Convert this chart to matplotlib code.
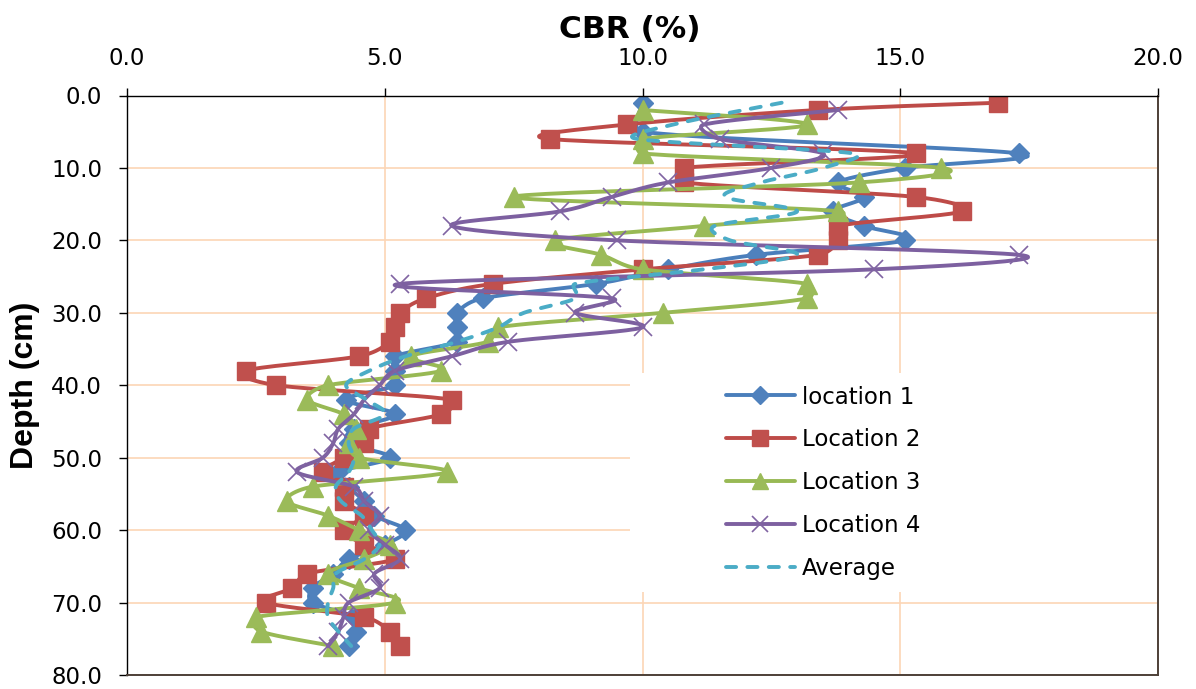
import numpy as np
import matplotlib
matplotlib.use("Agg")
import matplotlib.pyplot as plt
from matplotlib.lines import Line2D
from matplotlib.patches import Rectangle

# ---- data: CBR (%) against depth (cm) ----
loc1_depth = [1, 5, 8, 10, 12, 14, 16, 18, 20, 22, 24, 26, 28, 30, 32, 34, 36, 38, 40,
              42, 44, 46, 48, 50, 52, 54, 56, 58, 60, 62, 64, 66, 68, 70, 72, 74, 76]
loc1_cbr = [10.0, 10.0, 17.3, 15.1, 13.8, 14.3, 13.7, 14.3, 15.1, 12.2, 10.5, 9.1, 6.9,
            6.4, 6.4, 6.4, 5.2, 5.2, 5.2, 4.25, 5.2, 4.4, 4.3, 5.1, 4.1, 4.3, 4.6, 4.8,
            5.4, 5.0, 4.3, 4.0, 3.6, 3.6, 4.4, 4.45, 4.3]

loc2_depth = [1, 2, 4, 6, 8, 10, 12, 14, 16, 18, 20, 22, 24, 26, 28, 30, 32, 34, 36, 38,
              40, 42, 44, 46, 48, 50, 52, 54, 56, 58, 60, 62, 64, 66, 68, 70, 72, 74, 76]
loc2_cbr = [16.9, 13.4, 9.7, 8.2, 15.3, 10.8, 10.8, 15.3, 16.2, 13.8, 13.8, 13.4, 10.0,
            7.1, 5.8, 5.3, 5.2, 5.1, 4.5, 2.3, 2.9, 6.3, 6.1, 4.7, 4.6, 4.2, 3.8, 4.2,
            4.2, 4.6, 4.2, 4.6, 5.2, 3.5, 3.2, 2.7, 4.6, 5.1, 5.3]

loc3_depth = [2, 4, 6, 8, 10, 12, 14, 16, 18, 20, 22, 24, 26, 28, 30, 32, 34, 36, 38,
              40, 42, 44, 46, 48, 50, 52, 54, 56, 58, 60, 62, 64, 66, 68, 70, 72, 74, 76]
loc3_cbr = [10.0, 13.2, 10.0, 10.0, 15.8, 14.2, 7.5, 13.8, 11.2, 8.3, 9.2, 10.0, 13.2,
            13.2, 10.4, 7.2, 7.0, 5.5, 6.1, 3.9, 3.5, 4.2, 4.45, 4.3, 4.5, 6.2, 3.6,
            3.1, 3.9, 4.5, 5.1, 4.6, 3.9, 4.5, 5.2, 2.5, 2.6, 4.0]

loc4_depth = [2, 4, 6, 8, 10, 12, 14, 16, 18, 20, 22, 24, 26, 28, 30, 32, 34, 36, 38,
              40, 42, 44, 46, 48, 50, 52, 54, 56, 58, 60, 62, 64, 66, 68, 70, 72, 74, 76]
loc4_cbr = [13.8, 11.2, 11.5, 13.5, 12.5, 10.5, 9.4, 8.4, 6.3, 9.5, 17.3, 14.5, 5.3,
            9.4, 8.7, 10.0, 7.4, 6.3, 5.2, 4.9, 4.6, 4.4, 4.1, 4.0, 3.8, 3.3, 4.4, 4.6,
            4.9, 4.7, 5.0, 5.3, 4.8, 4.9, 4.3, 4.2, 4.1, 3.9]

avg_depth = [1, 4, 6, 8, 10, 12, 14, 16, 18, 20, 22, 24, 26, 28, 30, 32, 34, 36, 38,
             40, 42, 44, 46, 48, 50, 52, 54, 56, 58, 60, 62, 64, 66, 68, 70, 72, 74, 76]
avg_cbr = [12.7, 10.6, 9.9, 14.1, 13.5, 12.3, 11.6, 13.0, 11.4, 11.7, 13.0, 11.2, 8.7,
           8.7, 7.7, 7.2, 6.4, 5.4, 4.7, 4.25, 4.65, 5.0, 4.4, 4.3, 4.4, 4.3, 4.05, 4.15,
           4.55, 4.75, 4.9, 4.6, 4.05, 4.0, 3.9, 3.9, 4.1, 4.35]

series_names = ["location 1", "Location 2", "Location 3", "Location 4", "Average"]

x_ticks = [0, 5, 10, 15, 20]
x_tick_labels = ["0.0", "5.0", "10.0", "15.0", "20.0"]
y_ticks = [0, 10, 20, 30, 40, 50, 60, 70, 80]
y_tick_labels = ["0.0", "10.0", "20.0", "30.0", "40.0", "50.0", "60.0", "70.0", "80.0"]


def smooth(ax, xs, ys, n=24):
    """Smoothed curve through the points: cubic Bezier segments whose tangents
    follow the neighbouring points, limited to half the segment length
    (computed in screen space, then mapped back to data coordinates)."""
    P = ax.transData.transform(np.column_stack([xs, ys]).astype(float))
    out = []
    for i in range(len(P) - 1):
        p0 = P[i - 1] if i > 0 else P[i]
        p1, p2 = P[i], P[i + 1]
        p3 = P[i + 2] if i + 2 < len(P) else P[i + 1]
        seg = np.hypot(*(p2 - p1))
        t1 = (p2 - p0) / 6.0
        t2 = (p3 - p1) / 6.0
        for tv in (t1, t2):
            L = np.hypot(*tv)
            if L > 0.5 * seg and L > 0:
                tv *= 0.5 * seg / L
        c1 = p1 + t1
        c2 = p2 - t2
        t = np.linspace(0, 1, n, endpoint=(i == len(P) - 2))[:, None]
        curve = ((1 - t) ** 3) * p1 + 3 * ((1 - t) ** 2) * t * c1 \
            + 3 * (1 - t) * t ** 2 * c2 + t ** 3 * p2
        out.append(curve)
    out = ax.transData.inverted().transform(np.vstack(out))
    return out[:, 0], out[:, 1]


W, H = 1196, 689
fig = plt.figure(figsize=(W / 100, H / 100), dpi=100)
ax = fig.add_axes([127 / W, 1 - 675 / H, (1158 - 127) / W, (675 - 95.5) / H])

FONT = "DejaVu Sans"
TICK_FS = 16.5

ax.set_xlim(0, 20)
ax.set_ylim(80, 0)
ax.set_xticks(x_ticks)
ax.set_xticklabels(x_tick_labels, fontsize=TICK_FS, family=FONT)
ax.set_yticks(y_ticks)
ax.set_yticklabels(y_tick_labels, fontsize=TICK_FS, family=FONT)
ax.tick_params(axis="x", top=True, labeltop=True, bottom=False, labelbottom=False,
               direction="out", length=5.5, width=1.0, pad=12.7, colors="black")
ax.tick_params(axis="y", left=True, right=False, direction="out", length=5.5,
               width=1.0, pad=12.5, colors="black")

grid_c = "#FCD5B5"
ax.set_axisbelow(True)
ax.grid(True, color=grid_c, linewidth=1.2)

for side in ("top", "left"):
    ax.spines[side].set_color("black")
    ax.spines[side].set_linewidth(1.0)
for side in ("bottom", "right"):
    ax.spines[side].set_color("#4d4038")
    ax.spines[side].set_linewidth(1.4)

# white panel behind the legend
ax.add_patch(Rectangle((0.488, 0.143), 0.512, 0.378, transform=ax.transAxes,
                       facecolor="white", edgecolor="none", zorder=0.8))

styles = [
    dict(color="#4A7EBB", marker="D", ms=10.5, mfc="#4F81BD", mec="#4F81BD", mew=1.0),
    dict(color="#BE4B48", marker="s", ms=13.5, mfc="#C0504D", mec="#C0504D", mew=1.0),
    dict(color="#98B954", marker="^", ms=14.0, mfc="#9BBB59", mec="#9BBB59", mew=1.0),
    dict(color="#7D60A0", marker="x", ms=13.0, mfc="#8064A2", mec="#8064A2", mew=1.2),
]
data = [(loc1_cbr, loc1_depth), (loc2_cbr, loc2_depth),
        (loc3_cbr, loc3_depth), (loc4_cbr, loc4_depth)]
LW = 2.8

handles = []
for (xv, yv), st, name in zip(data, styles, series_names[:4]):
    sx, sy = smooth(ax, xv, yv)
    ax.plot(sx, sy, color=st["color"], lw=LW, solid_capstyle="round",
            solid_joinstyle="round", zorder=2)
    ax.plot(xv, yv, ls="none", marker=st["marker"], ms=st["ms"], mfc=st["mfc"],
            mec=st["mec"], mew=st["mew"], zorder=2)
    handles.append(Line2D([], [], color=st["color"], lw=LW, marker=st["marker"],
                          ms=st["ms"] * 0.85, mfc=st["mfc"], mec=st["mec"],
                          mew=st["mew"], solid_capstyle="round"))

av_x, av_y = smooth(ax, avg_cbr, avg_depth)
ax.plot(av_x, av_y, color="#4BACC6", lw=LW, zorder=3,
        dashes=(2.6, 2.9), dash_capstyle="round")
handles.append(Line2D([], [], color="#4BACC6", lw=LW, dashes=(2.6, 2.9),
                      dash_capstyle="round"))

leg = fig.legend(handles, series_names, loc="upper left",
                 bbox_to_anchor=(726 / W, 1 - 385.5 / H), bbox_transform=fig.transFigure,
                 frameon=False, borderpad=0, borderaxespad=0, handlelength=3.0,
                 handletextpad=0.3, labelspacing=0.87,
                 prop={"family": FONT, "size": TICK_FS})

fig.text(630 / W, 1 - 38 / H, "CBR (%)", ha="center", va="baseline",
         fontsize=22.5, fontweight="bold", family=FONT)
fig.text(25 / W, 1 - 385 / H, "Depth (cm)", ha="center", va="center", rotation=90,
         fontsize=23, fontweight="bold", family="Liberation Sans")

fig.savefig("out.png", dpi=100)
